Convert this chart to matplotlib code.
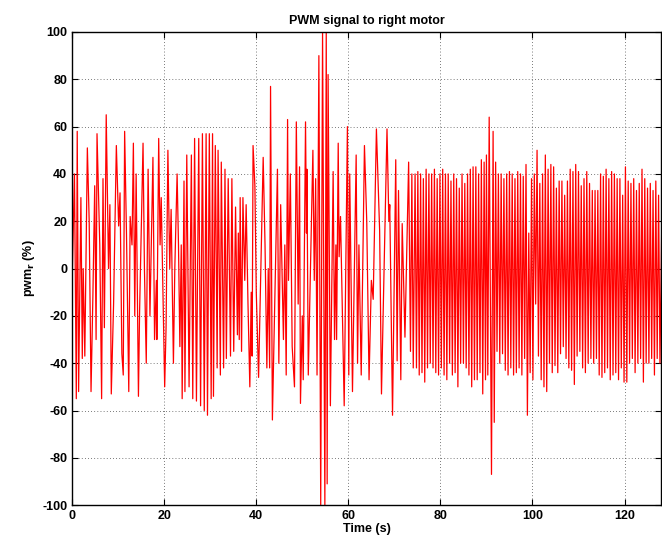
import matplotlib
matplotlib.use("Agg")
import matplotlib.pyplot as plt

# extrema of the PWM trace
t_s = [
    0.0, 0.5, 0.9, 1.1, 1.4, 1.9, 2.2, 2.4, 2.75, 3.3, 3.7, 4.1, 4.5, 4.9, 5.2, 5.4,
    6.0, 6.4, 6.7, 7.0, 7.4, 7.9, 8.2, 8.5, 9.0, 9.6, 10.1, 10.4, 10.8, 11.1, 11.4, 11.8,
    12.3, 12.6, 13.0, 13.3, 13.6, 13.9, 14.4, 14.65, 15.4, 15.7, 16.1, 16.5, 16.9, 17.55,
    17.9, 18.3, 18.4, 18.8, 19.1, 19.35, 20.1, 20.4, 20.8, 21.2, 21.5, 22.0, 22.3, 22.8,
    23.1, 23.4, 23.7, 23.9, 24.3, 24.5, 24.9, 25.4, 25.9, 26.2, 26.6, 27.0, 27.5, 27.9,
    28.3, 28.7, 29.1, 29.4, 29.8, 30.2, 30.5, 30.7, 31.1, 31.5, 31.7, 32.2, 32.4, 32.9,
    33.2, 33.5, 33.9, 34.4, 34.7, 35.1, 35.5, 35.9, 36.1, 36.3, 36.5, 36.8, 37.1, 37.5,
    37.8, 38.2, 38.6, 38.9, 39.1, 39.3, 39.7, 40.0, 40.5, 41.5, 41.9, 42.3, 42.6, 42.9,
    43.1, 43.5, 44.6, 44.9, 45.3, 45.9, 46.2, 46.5, 46.8, 47.0, 47.4, 47.8, 48.3, 48.7,
    49.1, 49.4, 49.6, 50.0, 50.2, 50.7, 50.9, 51.0, 51.3, 52.3, 52.6, 52.9, 53.2, 53.6,
    54.0, 54.4, 54.9, 55.2, 55.4, 55.6, 56.1, 56.7, 57.0, 57.3, 57.45, 57.8, 58.0, 58.3,
    59.1, 59.8, 60.1, 60.3, 60.9, 61.7, 62.0, 62.3, 62.8, 63.5, 64.0, 64.5, 65.0, 65.4,
    66.1, 66.8, 67.2, 67.5, 68.4, 68.8, 69.0, 69.6, 70.0, 70.3, 70.6, 70.9, 71.4, 71.7,
    72.3, 73.1, 73.5, 73.8, 74.1,
    74.5, 74.8, 75.1, 75.4, 75.7, 76.0, 76.3, 76.6, 76.9, 77.2, 77.5, 77.8, 78.1, 78.4,
    78.7, 79.0, 79.3, 79.6, 79.9, 80.2, 80.5, 80.8, 81.1, 81.4, 81.7, 82.0, 82.3, 82.6,
    82.9, 83.2, 83.5, 83.8, 84.1, 84.4, 84.7, 85.0, 85.3, 85.6, 85.9, 86.2, 86.5, 86.8,
    87.1, 87.4, 87.7, 88.0, 88.3, 88.6, 88.9, 89.2, 89.5, 89.8, 90.0, 90.3,
    90.6, 91.1, 91.45, 91.7,
    92.0, 92.3, 92.6, 92.9, 93.2, 93.5, 93.8, 94.1, 94.4, 94.7, 95.0, 95.3, 95.6, 95.9,
    96.2, 96.5, 96.8, 97.1, 97.4, 97.7, 98.0, 98.3, 98.6, 98.9, 99.2, 99.5, 99.8, 100.1,
    100.4, 100.7, 101.0, 101.3, 101.6, 101.9, 102.2, 102.5, 102.8, 103.1, 103.4, 103.7,
    104.0, 104.3, 104.6, 104.9, 105.2, 105.5, 105.8, 106.1, 106.4, 106.7, 107.0, 107.3,
    107.6, 107.9, 108.2, 108.5, 108.8, 109.1, 109.4, 109.7, 110.0, 110.3, 110.6, 110.9,
    111.2, 111.5, 111.8, 112.1, 112.4, 112.7,
    113.0, 113.3, 113.6, 113.9, 114.2, 114.5, 114.8, 115.1, 115.4, 115.7, 116.0, 116.3,
    116.6, 116.9, 117.2, 117.5, 117.8, 118.1, 118.4, 118.7, 119.0, 119.3, 119.6, 119.9,
    120.2, 120.5, 120.8, 121.1, 121.4, 121.7, 122.0, 122.3, 122.6, 122.9, 123.2, 123.5,
    123.8, 124.1, 124.4, 124.7, 125.0, 125.3, 125.6, 125.9, 126.2, 126.5, 126.8, 127.1,
    127.4, 127.7, 128.1,
]
pwm_r = [
    -5, 40, -55, 58, -52, 30, -38, 0, -37, 51, 20, -52, -12, 35, -30, 57,
    10, -55, 38, -25, 65, 0, 27, -53, -15, 52, 18, 32, -36, -45, 58, 15,
    -52, 22, 10, 53, -20, 40, -54, -18, 53, 0, -40, 42, -20, 47,
    -30, -5, -30, 55, 10, 30, -50, -25, 50, 0, 25, -40, 0, 40,
    10, -33, 10, -55, 37, -52, 48, -50, 48, -55, 55, -56, 55, -58,
    57, -60, 57, -62, 57, -55, 57, -54, 52, -42, 50, -45, 45, -42,
    42, -38, 38, -37, 38, -35, 26, -28, 15, -30, 30, -35, 30, -5,
    27, -15, -50, -10, -37, 52, 35, -10, -46, 47, 10, -42, 0, -42,
    77, -64, 42, -40, 27, -30, 10, -45, 63, -5, 40, -33, -50, 62,
    -15, 43, -57, -20, -47, 62, 15, 42, -45, 50, -5, 38, -45, 90,
    -100, 100, -100, 100, -91, 82, -58, 41, -30, 10, -30, 53, 5, 22,
    -58, 60, -45, 40, -52, 48, -40, 10, -45, 52, 20, -47, -5, -13,
    59, 16, -53, -25, 59, 20, 27, -62, 0, 46, -39, 33, -47, 19,
    -29, 45, -35, 40, -42,
    40, -42, 41, -45, 40, -44, 38, -48, 42, -42, 40, -40, 40, -42,
    42, -44, 38, -45, 40, -42, 42, -45, 40, -47, 40, -40, 37, -45,
    40, -44, 38, -50, 34, -40, 40, -40, 36, -42, 40, -45, 42, -50,
    43, -47, 43, -47, 40, -44, 46, -53, 45, -47, 48, -45,
    64, -87, 58, -65,
    45, -35, 40, -40, 40, -36, 38, -43, 40, -45, 41, -42, 40, -45,
    38, -44, 41, -42, 40, -45, 39, -38, 44, -62, 15, -44, 38, -47,
    40, -15, 50, -37, 36, -47, 40, -50, 48, -52, 42, -40,
    44, -44, 43, -41, 34, -44, 37, -36, 37, -33, 31, -38,
    37, -42, 42, -43, 41, -49, 44, -37, 41, -35, 35, -42,
    38, -44, 41, -40, 36, -38,
    33, -40, 33, -38, 33, -45, 40, -46, 39, -44, 42, -42,
    38, -47, 41, -45, 40, -44, 38, -47, 38, -42, 31, -48,
    43, -48, 37, -40, 36, -38, 38, -44, 33, -40, 36, -38,
    42, -48, 38, -40, 34, -40, 36, -38, 33, -45, 37, -38,
    31, -40, 20,
]

x_ticks = [0, 20, 40, 60, 80, 100, 120]
y_ticks = [-100, -80, -60, -40, -20, 0, 20, 40, 60, 80, 100]

plt.rcParams['font.family'] = ['Liberation Sans', 'DejaVu Sans']
plt.rcParams['font.weight'] = 'bold'
plt.rcParams['axes.unicode_minus'] = False

fig = plt.figure(figsize=(6.62, 5.42), dpi=100)
ax = fig.add_axes([0.109, 0.068, 0.89, 0.873])

ax.plot(t_s, pwm_r, color='#ff0000', linewidth=0.9)

ax.set_xlim(0, 128)
ax.set_ylim(-100, 100)
ax.set_xticks(x_ticks)
ax.set_yticks(y_ticks)
ax.tick_params(direction='in', top=True, right=True, labelsize=9, length=4)
ax.grid(True, linestyle=(0, (1, 3.5)), color='black', linewidth=0.5)
for s in ax.spines.values():
    s.set_linewidth(1.0)

ax.set_title('PWM signal to right motor', fontsize=9, fontweight='bold', pad=6)
ax.set_xlabel('Time (s)', fontsize=9, fontweight='bold', labelpad=1)
ax.set_ylabel('pwm$_\\mathbf{r}$ (%)', fontsize=9, fontweight='bold', labelpad=4)

fig.savefig('out.png', dpi=100)
